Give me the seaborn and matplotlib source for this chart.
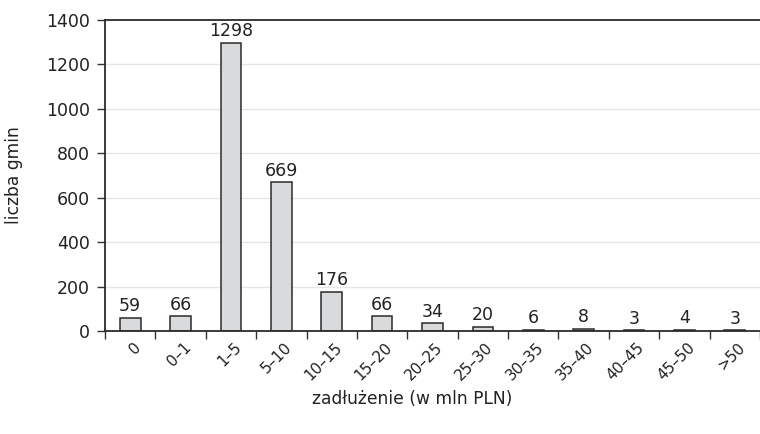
import matplotlib
matplotlib.use("Agg")
import matplotlib.pyplot as plt
import matplotlib.transforms as mtransforms
import seaborn as sns
import numpy as np

categories = ["0", "0–1", "1–5", "5–10", "10–15", "15–20", "20–25",
              "25–30", "30–35", "35–40", "40–45", "45–50", ">50"]
counts = [59, 66, 1298, 669, 176, 66, 34, 20, 6, 8, 3, 4, 3]
y_ticks = [0, 200, 400, 600, 800, 1000, 1200, 1400]

sns.set_theme(style="white")
plt.rcParams["font.family"] = ["DejaVu Sans"]

fig = plt.figure(figsize=(7.6, 4.34), dpi=100)
ax = fig.add_axes([105 / 760, 1 - 331 / 434, 1 - 105 / 760, (331 - 20) / 434])

sns.barplot(x=categories, y=counts, ax=ax, color="#d9dadc",
            edgecolor="#2b2b2b", linewidth=1.1, width=0.41, saturation=1)

# value labels above bars
for i, v in enumerate(counts):
    ax.annotate(str(v), (i, v), xytext=(0, 2), textcoords="offset points",
                ha="center", va="bottom", fontsize=12.5, color="#222222")

ax.set_ylim(0, 1400)
ax.set_yticks(y_ticks)
ax.set_yticklabels([str(t) for t in y_ticks], fontsize=12.5, color="#222222")
ax.set_xlim(-0.5, 12.5 - 9 / 51.1)

# horizontal gridlines
for t in y_ticks[1:-1]:
    ax.axhline(t, color="#e6e6e6", lw=1.0, zorder=0)

# category boundaries as tick marks, labels at bar centres
ax.set_xticks(np.arange(len(categories)))
ax.set_xticklabels(categories, rotation=45, ha="right", va="center",
                   rotation_mode="anchor", fontsize=11, color="#222222")
ax.tick_params(axis="x", which="major", length=0, pad=10)
shift = mtransforms.ScaledTranslation(8 / 100, 0, fig.dpi_scale_trans)
for lab in ax.get_xticklabels():
    lab.set_transform(lab.get_transform() + shift)
ax.set_xticks(np.arange(len(categories) + 1) - 0.5, minor=True)
ax.tick_params(axis="x", which="minor", length=6, width=1, color="#333333",
               direction="out", bottom=True)
ax.tick_params(axis="y", length=6, width=1, color="#333333", direction="out",
               left=True, pad=5)

for side in ["left", "top", "bottom"]:
    ax.spines[side].set_color("#2b2b2b")
    ax.spines[side].set_linewidth(1.3)
ax.spines["right"].set_visible(False)

ax.set_ylabel("liczba gmin", fontsize=12.3, color="#222222")
ax.set_xlabel("zadłużenie (w mln PLN)", fontsize=12.3, color="#222222")
ax.yaxis.set_label_coords(-0.125, 0.5)
ax.xaxis.set_label_coords(0.469, -0.19)

fig.savefig("out.png", dpi=100)
